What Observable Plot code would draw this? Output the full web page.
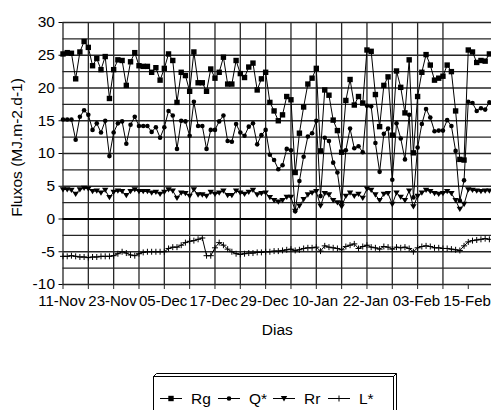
<!DOCTYPE html>
<html><head><meta charset="utf-8">
<script src="https://cdn.jsdelivr.net/npm/d3@7"></script>
<script src="https://cdn.jsdelivr.net/npm/@observablehq/plot@0.6"></script>
<style>
html,body{margin:0;padding:0;overflow:hidden;background:#fff;width:491px;height:410px}
#wrap{position:relative;width:491px;height:410px;font-family:"Liberation Sans",Arial,sans-serif}
#legend{position:absolute;left:0;top:345px}
</style></head><body><div id="wrap"></div>
<script>
// ---- data (daily values, 11-Nov onwards) ----
const tickLabels = ["11-Nov","23-Nov","05-Dec","17-Dec","29-Dec","10-Jan","22-Jan","03-Feb","15-Feb"];
const seriesNames = ["Rg","Q*","Rr","L*"];
const rg = [25.2,25.4,25.3,21.4,25.5,27.1,26.2,23.4,24.5,22.8,24.8,18.4,22.8,24.3,24.2,20.4,24.0,25.4,23.4,23.3,
  23.3,22.4,23.1,21.2,23.0,25.2,24.2,17.8,22.4,21.9,19.5,25.5,20.8,20.8,19.5,22.9,21.5,22.4,24.7,20.6,
  20.6,24.2,22.2,21.6,23.2,23.8,19.7,21.4,22.4,17.8,16.5,15.0,15.9,18.7,18.2,7.1,13.1,17.1,20.6,21.5,
  23.0,10.4,19.7,18.9,15.1,13.5,10.2,18.1,21.3,17.4,18.7,17.7,25.8,25.6,19.0,14.1,20.4,21.7,12.8,22.6,
  20.1,16.2,24.3,10.1,18.7,22.4,25.1,23.5,21.2,21.5,21.8,23.5,22.5,16.5,9.1,9.0,25.8,25.5,23.9,24.2,
  24.1,25.2];
const qstar = [15.2,15.2,15.2,12.1,15.6,16.6,15.9,13.6,14.6,13.2,15.0,9.6,13.2,14.6,14.9,11.5,14.4,15.6,14.2,14.2,
  14.2,13.3,14.0,12.4,14.0,16.5,15.8,10.7,15.0,14.9,12.7,17.9,14.2,14.2,10.7,13.6,13.6,14.9,15.8,11.9,
  11.8,14.5,13.2,12.7,14.1,14.6,11.4,12.8,13.6,9.8,9.0,7.6,8.2,10.7,10.5,1.2,5.8,9.5,12.6,13.1,
  15.0,3.5,12.4,11.9,8.6,7.1,2.5,10.5,13.8,10.8,11.1,10.2,17.3,17.2,11.6,7.2,13.0,13.8,6.0,14.6,
  12.3,9.1,15.9,3.3,10.9,14.5,16.8,15.5,13.4,13.5,13.5,15.1,14.2,10.4,2.8,5.9,17.9,17.7,16.5,16.9,
  16.7,17.8];
const rr = [4.5,4.5,4.4,3.8,4.5,4.7,4.6,4.2,4.3,4.0,4.4,3.3,4.1,4.3,4.2,3.6,4.2,4.5,4.2,4.2,
  4.2,4.0,4.1,3.8,4.1,4.5,4.3,3.2,4.0,3.9,3.5,4.5,3.7,3.7,3.5,4.1,3.8,4.0,4.3,3.6,
  3.6,4.3,4.0,3.8,4.1,4.4,3.7,3.9,4.0,3.3,2.85,2.6,2.85,3.35,3.35,1.2,2.0,3.0,3.7,4.0,
  4.2,2.0,3.9,3.7,2.85,2.5,1.9,3.5,4.0,3.5,3.8,3.2,4.6,4.4,3.7,2.85,3.8,3.9,2.25,4.0,
  3.35,2.85,4.3,1.9,3.5,4.0,4.4,4.2,3.9,3.8,3.9,4.2,3.9,2.85,1.5,2.25,4.5,4.4,4.3,4.2,
  4.3,4.3];
const lstar = [-5.7,-5.7,-5.6,-5.7,-5.8,-5.8,-5.9,-5.8,-5.8,-5.7,-5.7,-5.7,-5.6,-5.3,-5.0,-5.2,-5.5,-5.6,-5.3,-5.1,
  -5.0,-5.0,-5.0,-5.0,-5.0,-4.5,-4.3,-4.3,-4.0,-3.6,-3.4,-3.3,-3.1,-2.9,-5.6,-5.6,-4.4,-3.6,-4.0,-4.6,
  -5.0,-5.3,-5.4,-5.3,-5.2,-5.2,-5.1,-5.1,-5.0,-5.0,-4.9,-4.9,-4.8,-4.7,-4.6,-4.8,-4.7,-4.5,-4.4,-4.4,
  -4.3,-4.9,-4.1,-4.3,-4.4,-4.5,-4.7,-4.2,-4.0,-3.8,-4.5,-4.2,-4.0,-4.3,-4.4,-4.6,-4.2,-4.3,-4.6,-4.3,
  -4.4,-4.3,-4.5,-5.0,-4.4,-4.2,-4.1,-4.2,-4.4,-4.4,-4.5,-4.5,-4.6,-4.7,-4.8,-4.1,-3.5,-3.3,-3.2,-3.1,
  -3.0,-3.1];
const yTicks = [-10,-5,0,5,10,15,20,25,30];

// ---- derived tables ----
const values = [rg, qstar, rr, lstar];
const table = values.flatMap((arr, s) => arr.map((v, i) => ({day: i, value: v, series: seriesNames[s]})));
const labelStep = 12, gridStep = 6;
const labelDays = tickLabels.map((_, i) => i * labelStep);
const tickDays = d3.range(0, labelDays[labelDays.length - 1] + 1, gridStep);
const gridDays = tickDays.slice(0, -1);
const yGrid = d3.range(yTicks[0], yTicks[yTicks.length - 1] + 0.01, 2.5);

// ---- custom marker symbols ----
const rad = s => Math.sqrt(s / Math.PI);
const symSquare = {draw(c, s){const r = rad(s); c.rect(-r, -r, 2*r, 2*r);}};
const symCircle = {draw(c, s){const r = rad(s); c.moveTo(r, 0); c.arc(0, 0, r, 0, 2*Math.PI);}};
const symTri = {draw(c, s){const r = rad(s); c.moveTo(-r, -r*0.75); c.lineTo(r, -r*0.75); c.lineTo(0, r*0.9); c.closePath();}};
const symPlus = {draw(c, s){const r = rad(s); c.moveTo(-r, 0); c.lineTo(r, 0); c.moveTo(0, -r); c.lineTo(0, r);}};
const markers = {
  "Rg": {symbol: symSquare, r: 2.7, fill: "black", stroke: "none"},
  "Q*": {symbol: symCircle, r: 2.3, fill: "black", stroke: "none"},
  "Rr": {symbol: symTri, r: 3.2, fill: "black", stroke: "none"},
  "L*": {symbol: symPlus, r: 3.0, fill: "none", stroke: "black"}
};

const font = '"Liberation Sans", Arial, sans-serif';
const fs = 15.5, fsx = 15;
const seriesMarks = seriesNames.flatMap(name => {
  const data = table.filter(d => d.series === name);
  const m = markers[name];
  return [
    Plot.line(data, {x: "day", y: "value", stroke: "black", strokeWidth: 1}),
    Plot.dot(data, {x: "day", y: "value", symbol: m.symbol, r: m.r, fill: m.fill, stroke: m.stroke, strokeWidth: 1})
  ];
});

const chart = Plot.plot({
  width: 491, height: 345,
  marginLeft: 62.5, marginRight: 0, marginTop: 22, marginBottom: 61,
  x: {type: "linear", domain: [0, 101.5], axis: null},
  y: {domain: [yTicks[0], yTicks[yTicks.length - 1]], axis: null},
  style: {fontFamily: font, fontSize: fs + "px", background: "white", color: "black", overflow: "visible"},
  marks: [
    Plot.ruleY(yGrid, {stroke: "#262626", strokeWidth: 1.3}),
    Plot.ruleX(gridDays, {y1: yTicks[0], y2: yTicks[yTicks.length - 1], stroke: "#262626", strokeWidth: 1.3}),
    Plot.ruleY([0], {stroke: "black", strokeWidth: 2}),
    Plot.axisX({ticks: tickDays, tickSize: 5, tickPadding: 6, stroke: "#262626", text: null, label: null}),
    Plot.axisX({ticks: labelDays, tickSize: 0, tickPadding: 11, dx: -1.2,
      tickFormat: d => tickLabels[d / labelStep], fontSize: fsx, label: null}),
    Plot.axisY({ticks: yTicks, tickSize: 4, tickPadding: 4, tickFormat: d => String(d), fontSize: fs, label: null}),
    ...seriesMarks,
    Plot.text(["Fluxos (MJ.m-2.d-1)"], {frameAnchor: "left", textAnchor: "middle", lineAnchor: "middle",
      dx: -46, dy: -6, rotate: -90, fontSize: fs, fill: "black"}),
    Plot.text(["Dias"], {frameAnchor: "bottom", textAnchor: "middle", lineAnchor: "middle",
      dy: 46, fontSize: fs, fill: "black"})
  ]
});
const wrap = document.getElementById("wrap");
wrap.appendChild(chart);

// ---- legend (below the chart) ----
const lg = d3.select(wrap).append("svg").attr("id", "legend").attr("width", 491).attr("height", 65)
  .style("font-family", font).style("font-size", fs + "px");
const boxTop = 31.5, boxLeft = 153.5, boxRight = 393.5, off = 3;
lg.append("rect").attr("x", boxLeft).attr("y", boxTop).attr("width", boxRight - boxLeft).attr("height", 60)
  .attr("fill", "white").attr("stroke", "black");
lg.append("path").attr("fill", "none").attr("stroke", "black")
  .attr("d", `M${boxLeft},${boxTop}L${boxLeft+off},${boxTop-off}L${boxRight+off},${boxTop-off}L${boxRight+off},${boxTop+60}M${boxRight},${boxTop}L${boxRight+off},${boxTop-off}`);
const itemY = 53.5;
const itemX = [160, 218, 273, 328];
seriesNames.forEach((name, i) => {
  const x0 = itemX[i], m = markers[name];
  lg.append("line").attr("x1", x0).attr("x2", x0 + 22).attr("y1", itemY).attr("y2", itemY).attr("stroke", "black");
  lg.append("path").attr("transform", `translate(${x0 + 11},${itemY})`)
    .attr("d", d3.symbol(m.symbol, m.r * m.r * Math.PI)())
    .attr("fill", m.fill).attr("stroke", m.stroke);
  lg.append("text").attr("x", x0 + 31).attr("y", itemY).attr("dy", "0.35em").attr("fill", "black").text(name);
});
</script></body></html>
